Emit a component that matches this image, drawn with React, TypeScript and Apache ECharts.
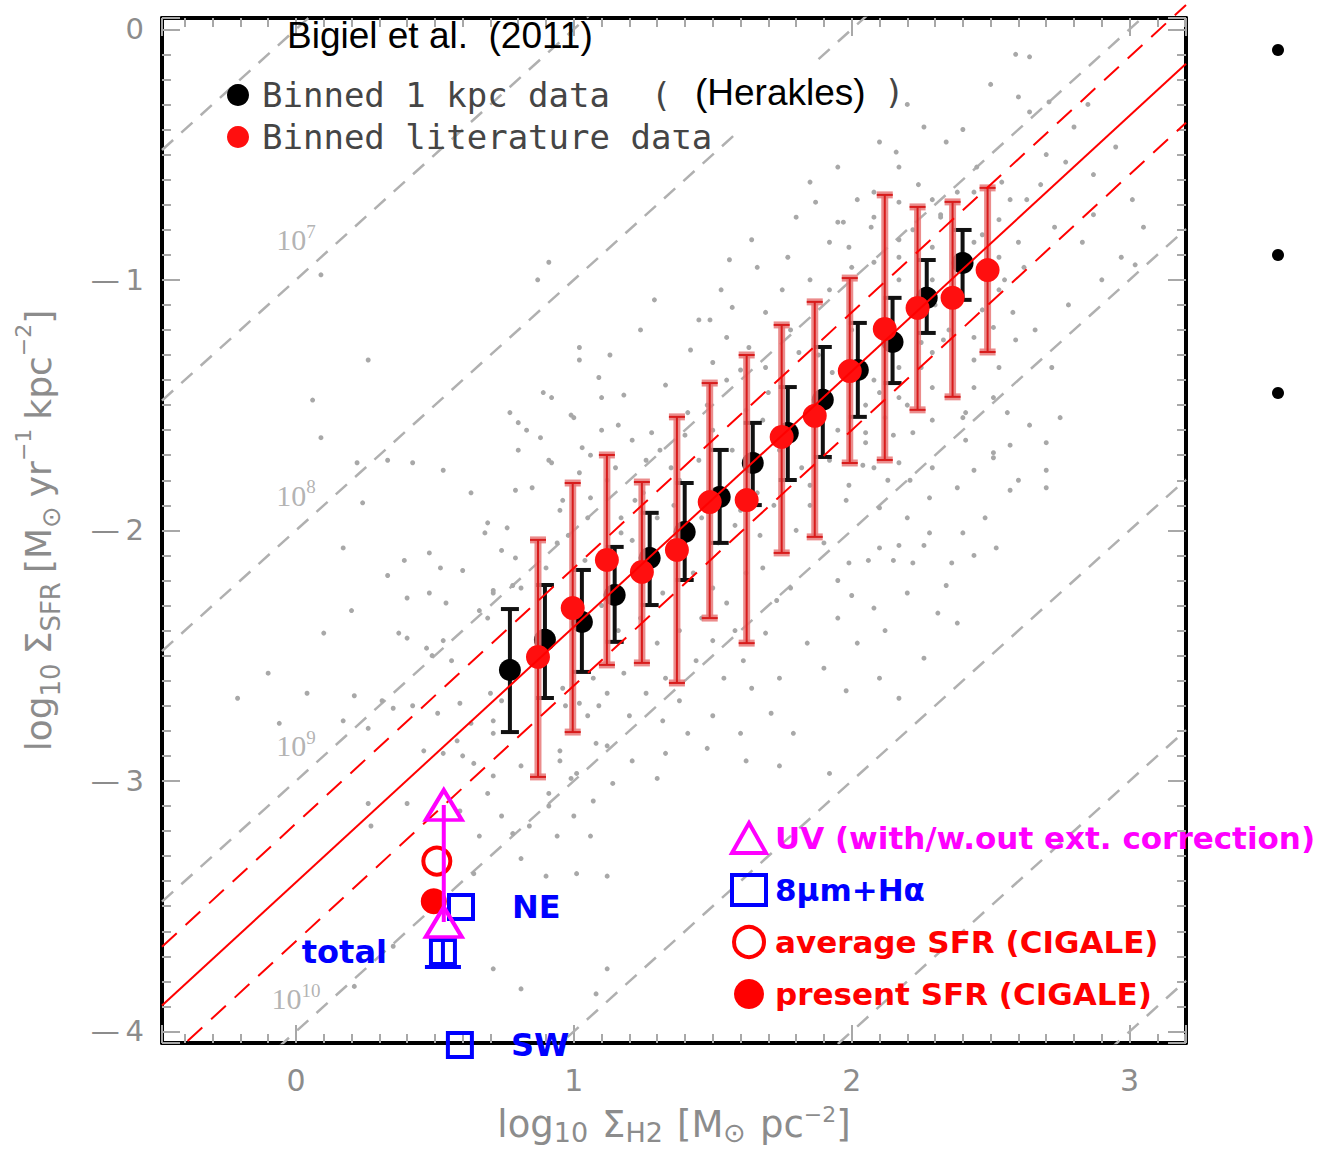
import React, { useEffect, useRef } from 'react';
import * as echarts from 'echarts';

// ---------- axes ----------
const X_MIN = -0.482;
const X_MAX = 3.203;
const Y_MIN = -4.046;
const Y_MAX = 0.045;
const xTickLabels = [0, 1, 2, 3];
const yTickLabels = [-4, -3, -2, -1, 0];

// ---------- Binned 1 kpc data (Herakles) ----------
const kpcX = [0.770, 0.896, 1.029, 1.147, 1.273, 1.399, 1.525, 1.644, 1.770, 1.896, 2.022, 2.147, 2.270, 2.399];
const kpcY = [-2.557, -2.437, -2.366, -2.258, -2.110, -2.006, -1.867, -1.731, -1.611, -1.479, -1.360, -1.248, -1.072, -0.933];
const kpcLo = [-2.805, -2.669, -2.565, -2.445, -2.298, -2.198, -2.050, -1.899, -1.799, -1.707, -1.547, -1.412, -1.212, -1.080];
const kpcHi = [-2.314, -2.218, -2.158, -2.066, -1.930, -1.811, -1.679, -1.571, -1.428, -1.268, -1.172, -1.072, -0.921, -0.801];

// ---------- Binned literature data ----------
const litX = [0.871, 0.996, 1.119, 1.245, 1.371, 1.489, 1.622, 1.748, 1.867, 1.993, 2.119, 2.237, 2.363, 2.489];
const litY = [-2.505, -2.310, -2.118, -2.166, -2.078, -1.887, -1.879, -1.627, -1.543, -1.364, -1.196, -1.112, -1.072, -0.961];
const litLo = [-2.984, -2.805, -2.537, -2.529, -2.609, -2.350, -2.450, -2.090, -2.026, -1.731, -1.719, -1.519, -1.467, -1.288];
const litHi = [-2.038, -1.811, -1.699, -1.807, -1.547, -1.412, -1.300, -1.180, -1.088, -0.993, -0.661, -0.709, -0.689, -0.633];

// ---------- background pixel cloud ----------
const cloudX = [
  0.09, 0.26, 0.06, 0.09, 0.22, 0.33, 0.42, 0.53, 0.63, 0.24, 0.17, 0.39, 0.48, 0.52, 0.68, 0.76, 0.91, 0.87, 1.02, 1.02,
  1.13, 1.09, 0.89, 0.92, 1.10, 0.77, 0.80, 0.83, 0.88, 1.00, 1.10, 0.80, 0.92, 1.03, 0.79, 0.85,
  0.10, 0.20, 0.33, 0.40, 0.48, 0.54, 0.60, 0.37, 0.40, 0.47, 0.53, 0.49, 0.56, 0.66, 0.71, 0.78, -0.10, -0.21, 0.04, -0.06,
  0.21, 0.31, 0.17, 0.26, 0.35, 0.42, 0.51, 0.59, 0.63, 0.70, 0.71, 0.46, 0.53, 0.60, 0.58, 0.64, 0.71, 0.26, 0.40, 0.27,
  0.59, 0.69, 0.66, 0.74, 0.78, 0.84, 0.91, 1.00, 0.94, 1.06, 0.81, 0.90, 1.01, 0.64, 0.71, 0.81, 1.08, 1.12, 0.21, 0.35,
  1.12, 1.12, 0.97, 1.05, 1.09, 0.95, 1.01, 0.91, 1.07,
  0.99, 1.21, 1.28, 1.31, 1.41, 1.45, 1.50, 1.57, 1.68, 1.74, 0.91, 1.02, 0.96, 1.06, 0.95, 1.05, 0.69, 0.74, 0.79, 0.90,
  0.71, 0.81, 0.69, 0.94, 1.17, 1.17, 1.21, 1.32, 1.43, 1.50, 1.55, 1.62, 1.68, 1.73, 1.78, 1.69, 1.61, 1.50, 1.44, 1.54,
  1.64, 1.74, 1.33, 1.38, 1.26, 1.18, 1.12, 1.07, 1.02, 0.96, 1.20, 1.32, 1.41, 1.50, 1.60, 1.71, 1.79, 0.95, 1.08, 1.21,
  1.33, 1.48, 1.62, 1.74, 0.99, 1.14, 1.30, 0.81, 0.71, 0.74, 1.24, 1.33, 1.42, 1.18, 1.29, 1.45,
  1.12, 1.25, 1.36, 1.58, 1.66, 1.85, 1.90, 1.82, 1.95, 2.05, 1.88, 2.00, 2.12, 2.25,
  1.87, 1.95, 2.02, 2.08, 2.17, 2.22, 2.29, 2.32, 2.44, 2.53, 2.57, 1.99, 2.08, 2.17, 2.29, 2.44, 2.53, 1.64, 1.77, 1.56,
  1.66, 1.75, 1.85, 1.92, 2.17, 2.29, 2.53, 2.58, 2.51, 2.59, 2.44, 2.33, 1.53, 1.57, 1.69, 1.49, 1.55, 1.63, 1.50, 1.60,
  1.69, 1.81, 1.93, 2.08, 2.17, 2.29, 2.44, 2.53, 2.17, 2.29, 2.44, 2.51, 2.56, 2.29, 2.41, 2.22, 2.41, 2.51, 2.17, 2.29,
  2.44, 2.05, 2.08,
  2.57, 2.70, 2.70, 2.70, 2.57, 2.51, 2.38, 2.28, 2.21, 2.13, 2.04, 1.99, 2.10, 2.20, 2.28, 2.40, 2.52, 2.26, 2.17, 2.10,
  2.06, 1.99, 2.15, 2.22, 2.36, 1.95, 2.00, 2.08, 2.31, 2.38, 2.26, 2.10, 1.98, 2.17, 1.92,
  2.59, 2.64, 2.60, 2.64, 2.71, 2.80, 2.95, 3.01, 3.05, 2.87, 2.77, 2.68, 2.63, 2.54, 2.45, 2.38, 2.32, 2.24, 2.17, 2.26,
  2.34, 2.17, 2.07, 1.97, 1.92, 1.85, 2.08, 2.16, 2.47, 2.60, 2.73, 2.87, 2.97, 3.02,
  1.15, 1.22, 1.30, 1.38, 1.46, 1.52, 1.60, 1.67, 1.72, 1.80, 1.85, 1.92, 1.98, 2.05, 2.10, 2.15, 2.20, 2.25, 2.30, 2.35,
  2.40, 2.47, 2.55, 2.62, 2.66, 2.72, 2.78, 2.83, 2.90, 1.70, 1.78, 1.62, 1.55, 1.48, 1.40, 1.35, 1.26, 1.16, 1.06, 0.98,
  1.04, 1.10, 1.16, 1.24, 1.30, 1.38, 1.46, 1.58, 1.84, 1.90, 1.95, 2.02, 2.12, 2.20, 2.34, 2.44, 2.48, 2.60, 2.64, 2.75,
  2.10, 2.20, 2.40, 2.50, 2.70, 2.85, 1.95, 1.80, 2.00, 2.25,
];
const cloudY = [
  -0.98, -1.32, -1.48, -1.63, -1.73, -1.72, -1.73, -1.76, -1.85, -1.89, -2.07, -2.12, -2.09, -2.15, -2.01, -1.99, -0.93, -1.00, -1.27, -1.32,
  -1.30, -1.39, -1.45, -1.47, -1.47, -1.53, -1.57, -1.60, -1.63, -1.55, -1.60, -1.68, -1.73, -1.67, -1.84, -1.83,
  -2.41, -2.32, -2.18, -2.27, -2.25, -2.29, -2.16, -2.41, -2.43, -2.47, -2.44, -2.50, -2.52, -2.32, -2.25, -2.22, -2.57, -2.67, -2.65, -2.77,
  -2.66, -2.68, -2.76, -2.79, -2.71, -2.70, -2.73, -2.69, -2.77, -2.65, -2.76, -2.88, -2.89, -2.90, -2.84, -2.93, -2.98, -3.09, -3.09, -3.18,
  -3.12, -3.05, -3.22, -3.14, -3.21, -3.18, -3.10, -3.14, -3.22, -3.22, -3.31, -3.38, -3.37, -3.37, -3.75, -3.83, -3.85, -3.75, -3.82, -3.66,
  -3.38, -2.86, -2.70, -2.74, -2.70, -2.92, -2.97, -3.05, -3.08,
  -1.54, -1.64, -1.61, -1.68, -1.53, -1.72, -1.60, -1.68, -1.56, -1.68, -1.72, -1.77, -1.88, -1.87, -1.92, -1.95, -1.97, -2.08, -2.11, -2.15,
  -2.24, -2.23, -2.35, -2.05, -1.95, -2.01, -2.04, -2.25, -2.17, -2.23, -2.29, -2.17, -2.15, -2.28, -2.23, -2.41, -2.52, -2.44, -2.52, -2.59,
  -2.63, -2.59, -2.59, -2.68, -2.65, -2.57, -2.65, -2.59, -2.69, -2.63, -2.74, -2.76, -2.81, -2.74, -2.81, -2.73, -2.81, -2.88, -2.85, -2.92,
  -2.89, -2.87, -2.92, -2.94, -2.99, -3.01, -2.99, -2.94, -2.81, -2.68, -1.20, -1.42, -1.28, -1.46, -1.08, -1.16,
  -1.80, -1.85, -1.90, -1.98, -1.85, -1.90, -2.05, -1.75, -1.60, -1.50, -1.30, -1.20, -1.55, -1.35,
  -0.69, -0.77, -0.68, -0.75, -0.69, -0.80, -0.68, -0.75, -0.65, -0.76, -0.68, -0.87, -0.93, -0.91, -0.87, -0.85, -0.91, -0.84, -0.91, -0.92,
  -0.95, -1.04, -1.00, -1.04, -1.00, -1.00, -1.04, -1.13, -1.19, -1.24, -1.23, -1.24, -1.04, -1.11, -1.13, -1.16, -1.23, -1.27, -1.33, -1.36,
  -1.35, -1.29, -1.37, -1.40, -1.35, -1.29, -1.32, -1.35, -1.47, -1.43, -1.43, -1.47, -1.53, -1.56, -1.53, -1.61, -1.64, -1.69, -1.73, -1.75,
  -1.76, -1.61, -1.75,
  -1.66, -1.65, -1.76, -1.83, -1.84, -1.71, -1.83, -1.87, -1.80, -1.80, -1.74, -1.82, -1.91, -1.95, -2.01, -2.01, -2.07, -2.06, -2.06, -2.07,
  -2.12, -2.13, -2.12, -2.13, -2.13, -2.20, -2.26, -2.31, -2.33, -2.37, -2.51, -2.59, -2.64, -2.67, -2.97,
  -0.10, -0.11, -0.27, -0.33, -0.29, -0.39, -0.47, -0.68, -0.79, -0.58, -0.53, -0.62, -0.68, -0.61, -0.55, -0.65, -0.74, -0.62, -0.55, -0.39,
  -0.45, -0.84, -0.79, -0.77, -0.85, -0.61, -0.65, -0.49, -0.82, -0.85, -0.79, -0.74, -0.91, -0.94,
  -1.75, -1.88, -1.95, -1.80, -1.95, -2.05, -1.92, -2.02, -1.90, -2.00, -1.82, -1.72, -1.88, -1.65, -1.45, -1.62, -1.50, -1.25, -1.10, -1.20,
  -1.55, -1.12, -1.00, -0.95, -1.20, -1.35, -1.10, -0.85, -1.00, -1.45, -1.20, -1.52, -1.40, -1.50, -1.62, -1.75, -1.72, -1.58, -1.70, -2.02,
  -2.12, -2.30, -2.40, -2.35, -2.45, -2.40, -2.35, -2.40, -2.45, -2.55, -2.35, -2.45, -2.40, -2.25, -2.22, -2.10, -1.95, -1.80, -1.58, -1.55,
  -0.45, -0.30, -0.40, -0.22, -0.50, -0.30, -0.55, -0.75, -0.95, -1.05,
];

// ---------- depletion-time lines: log SFR = log H2 - k ----------
const depletionOffsets = [0, 1, 2, 3, 4, 5, 6, 7];
const depletionLabelExp = ['7', '8', '9', '10'];
const depletionLabelX = [0.0, 0.0, 0.0, 0.0];
const depletionLabelY = [-0.84, -1.86, -2.86, -3.87];

// ---------- red fit lines: y = slope * x + b ----------
const fitSlope = 1.02;
const fitSolidB = -3.405;
const fitUpperB = -3.17;
const fitLowerB = -3.64;
const fitXStart = [-0.482, -0.482, -0.39];
const fitXEnd = 3.203;

// ---------- this galaxy ----------
const uvX = [0.532, 0.532];
const uvY = [-3.096, -3.563];
const avgSfrX = [0.507];
const avgSfrY = [-3.32];
const presentSfrX = [0.496];
const presentSfrY = [-3.48];
const pahNames = ['NE', 'total', 'SW'];
const pahX = [0.594, 0.529, 0.590];
const pahY = [-3.503, -3.683, -4.054];
const totalErrLo = -3.743;
const totalErrHi = -3.635;

const hershey = '"DejaVu Sans", sans-serif';
const hersheyWide = '"DejaVu Sans Mono", monospace';
const comicLike = '"DejaVu Sans", sans-serif';
const axisGray = '#8c8c8c';

const isInt = (v: number) => Math.abs(v - Math.round(v)) < 1e-6;

function errorBars(stroke: string, width: number, capHalf: number, under?: { stroke: string; width: number }, topCapHalf?: number) {
  return (params: any, api: any) => {
    const x = api.value(0);
    const lo = api.value(1);
    const hi = api.value(2);
    const top = api.coord([x, hi]);
    const bot = api.coord([x, lo]);
    const tc = topCapHalf ?? capHalf;
    const children: any[] = [];
    const add = (s: string, w: number) => {
      children.push({ type: 'line', shape: { x1: top[0], y1: top[1], x2: bot[0], y2: bot[1] }, style: { stroke: s, lineWidth: w } });
      children.push({ type: 'line', shape: { x1: top[0] - tc, y1: top[1], x2: top[0] + tc, y2: top[1] }, style: { stroke: s, lineWidth: w } });
      children.push({ type: 'line', shape: { x1: bot[0] - capHalf, y1: bot[1], x2: bot[0] + capHalf, y2: bot[1] }, style: { stroke: s, lineWidth: w } });
    };
    if (under) add(under.stroke, under.width);
    add(stroke, width);
    return { type: 'group', children };
  };
}

const nameRich = (size: number, gap: number, extra: number) => ({
  t: { fontSize: size, fontFamily: hershey, color: axisGray, lineHeight: size + extra },
  g: { fontSize: size, fontFamily: hershey, color: axisGray, lineHeight: size + extra, padding: [0, 0, 0, gap] },
  s: { fontSize: Math.round(size * 0.72), fontFamily: hershey, color: axisGray, verticalAlign: 'bottom', lineHeight: Math.round(size * 0.8) },
  p: { fontSize: Math.round(size * 0.6), fontFamily: hershey, color: axisGray, verticalAlign: 'top', lineHeight: Math.round(size * 0.7) },
});

function buildOption(): any {
  const frame = {
    axisLine: { show: true, onZero: false, lineStyle: { color: '#000', width: 4 } },
    axisTick: { show: true, inside: true, length: 18, lineStyle: { color: '#a8a8a8', width: 2 } },
    minorTick: { show: true, splitNumber: 10, length: 9, lineStyle: { color: '#a8a8a8', width: 2 } },
    splitLine: { show: false },
    minorSplitLine: { show: false },
  };

  const depletionSeries = depletionOffsets.map((k) => ({
    type: 'line',
    name: `tdep-${k}`,
    data: [[X_MIN, X_MIN - k], [X_MAX, X_MAX - k]],
    symbol: 'none',
    silent: true,
    clip: true,
    z: 1,
    lineStyle: { color: '#b0b0b0', width: 2.5, type: [15, 11] },
  }));

  const fitLine = (name: string, b: number, x0: number, dashed: boolean) => ({
    type: 'line',
    name,
    data: [[x0, fitSlope * x0 + b], [fitXEnd, fitSlope * fitXEnd + b]],
    symbol: 'none',
    silent: true,
    clip: false,
    z: 7,
    lineStyle: { color: '#ff0000', width: 2, type: dashed ? [20, 12] : 'solid' },
  });

  return {
    animation: false,
    backgroundColor: '#ffffff',
    grid: { left: 162, top: 18, width: 1024, height: 1025, containLabel: false, outerBoundsMode: 'none' },
    xAxis: [
      {
        type: 'value', position: 'bottom', min: X_MIN, max: X_MAX, ...frame,
        axisLabel: {
          show: true, margin: 22, fontSize: 30, color: axisGray, fontFamily: hershey, showMinLabel: false, showMaxLabel: false,
          formatter: (v: number) => (isInt(v) && xTickLabels.includes(Math.round(v)) ? String(Math.round(v)) : ''),
        },
        name: '{t|log}{s|10}{g|Σ}{s|H2}{g|[M}{s|⊙}{g|pc}{p|−2}{t|]}',
        nameLocation: 'middle', nameGap: 60,
        nameTextStyle: { rich: nameRich(37, 14, 6) },
      },
      { type: 'value', position: 'top', min: X_MIN, max: X_MAX, ...frame, axisLabel: { show: false } },
    ],
    yAxis: [
      {
        type: 'value', position: 'left', min: Y_MIN, max: Y_MAX, ...frame,
        axisLabel: {
          show: true, margin: 18, fontSize: 29, color: axisGray, fontFamily: hershey, showMinLabel: false, showMaxLabel: false,
          formatter: (v: number) => {
            if (!isInt(v) || !yTickLabels.includes(Math.round(v))) return '';
            const n = Math.round(v);
            return n === 0 ? '0' : '—\u2009' + Math.abs(n);
          },
        },
        name: '{t|log}{s|10}{g|Σ}{s|SFR}{g|[M}{s|⊙}{g|yr}{p|−1}{g|kpc}{p|−2}{t|]}',
        nameLocation: 'middle', nameGap: 98, nameRotate: 90,
        nameTextStyle: { rich: nameRich(36, 9, 16) },
      },
      { type: 'value', position: 'right', min: Y_MIN, max: Y_MAX, ...frame, axisLabel: { show: false } },
    ],
    legend: [
      {
        orient: 'vertical', left: 222, top: 72, itemGap: 6, itemWidth: 22, itemHeight: 22, icon: 'circle',
        selectedMode: false,
        data: ['Binned 1 kpc data', 'Binned literature data'],
        formatter: (n: string) => (n === 'Binned 1 kpc data' ? 'Binned 1 kpc data  (' : n),
        textStyle: { fontFamily: hersheyWide, fontSize: 34, color: '#454545', lineHeight: 36, padding: [0, 0, 0, 8] },
      },
      {
        orient: 'vertical', left: 725, top: 813, itemGap: 12, itemWidth: 34, itemHeight: 30,
        selectedMode: false,
        itemStyle: { borderWidth: 'inherit' },
        data: [
          { name: 'UV (with/w.out ext. correction)', textStyle: { color: '#ff00ff' } },
          { name: '8μm+Hα', textStyle: { color: '#0000ff' } },
          { name: 'average SFR (CIGALE)', textStyle: { color: '#ff0000' } },
          { name: 'present SFR (CIGALE)', textStyle: { color: '#ff0000' } },
        ],
        textStyle: { fontFamily: comicLike, fontWeight: 'bold', fontSize: 31, lineHeight: 40, padding: [0, 0, 0, 4] },
      },
    ],
    graphic: [
      { type: 'text', left: 287, top: 17, z: 100, style: { text: 'Bigiel et al.  (2011)', fontFamily: '"Liberation Sans", Arial, sans-serif', fontSize: 37, fill: '#000' } },
      { type: 'rect', z: 100, shape: { x: 675, y: 62, width: 212, height: 68 }, style: { fill: '#ffffff' } },
      { type: 'text', left: 695, top: 74, z: 101, style: { text: '(Herakles)', fontFamily: '"Liberation Sans", Arial, sans-serif', fontSize: 37, fill: '#000' } },
      { type: 'text', left: 884, top: 75, z: 101, style: { text: ')', fontFamily: hersheyWide, fontSize: 34, fill: '#454545' } },
      { type: 'circle', z: 100, shape: { cx: 1278, cy: 50, r: 6 }, style: { fill: '#000' } },
      { type: 'circle', z: 100, shape: { cx: 1278, cy: 255, r: 6 }, style: { fill: '#000' } },
      { type: 'circle', z: 100, shape: { cx: 1278, cy: 393, r: 6 }, style: { fill: '#000' } },
    ],
    series: [
      {
        type: 'scatter', name: 'pixels', silent: true, z: 1,
        data: cloudX.map((x, i) => [x, cloudY[i]]),
        symbol: 'circle', symbolSize: 5,
        itemStyle: { color: '#a8a8a8', opacity: 1 },
      },
      ...depletionSeries,
      {
        type: 'scatter', name: 'tdep-labels', silent: true, z: 2,
        data: depletionLabelX.map((x, i) => ({ value: [x, depletionLabelY[i]], name: depletionLabelExp[i] })),
        symbolSize: 0,
        label: {
          show: true, position: 'inside',
          formatter: (p: any) => `{b|10}{e|${p.name}}`,
          rich: {
            b: { fontFamily: '"Liberation Serif", serif', fontSize: 30, color: '#a0a0a0', lineHeight: 36 },
            e: { fontFamily: '"Liberation Serif", serif', fontSize: 19, color: '#a0a0a0', verticalAlign: 'top', lineHeight: 22 },
          },
        },
      },
      {
        type: 'custom', name: 'kpc-err', silent: true, z: 3,
        renderItem: errorBars('#111111', 4, 9),
        data: kpcX.map((x, i) => [x, kpcLo[i], kpcHi[i]]),
        encode: { x: 0, y: [1, 2] },
      },
      {
        type: 'scatter', name: 'Binned 1 kpc data', z: 4,
        data: kpcX.map((x, i) => [x, kpcY[i]]),
        symbol: 'circle', symbolSize: 22,
        itemStyle: { color: '#000000', opacity: 1 },
      },
      {
        type: 'custom', name: 'lit-err', silent: true, z: 5,
        renderItem: errorBars('#d81c1c', 2, 8, { stroke: 'rgba(232,120,120,0.85)', width: 7 }),
        data: litX.map((x, i) => [x, litLo[i], litHi[i]]),
        encode: { x: 0, y: [1, 2] },
      },
      {
        type: 'scatter', name: 'Binned literature data', z: 6,
        data: litX.map((x, i) => [x, litY[i]]),
        symbol: 'circle', symbolSize: 24,
        itemStyle: { color: '#ff0f0f', opacity: 1 },
      },
      fitLine('fit', fitSolidB, fitXStart[0], false),
      fitLine('fit-upper', fitUpperB, fitXStart[1], true),
      fitLine('fit-lower', fitLowerB, fitXStart[2], true),
      {
        type: 'scatter', name: 'present SFR (CIGALE)', z: 8,
        data: presentSfrX.map((x, i) => [x, presentSfrY[i]]),
        symbol: 'circle', symbolSize: 26,
        itemStyle: { color: '#ff0000', opacity: 1 },
      },
      {
        type: 'scatter', name: 'average SFR (CIGALE)', z: 8,
        data: avgSfrX.map((x, i) => [x, avgSfrY[i]]),
        symbol: 'circle', symbolSize: 27,
        itemStyle: { color: 'rgba(255,255,255,0)', borderColor: '#ff0000', borderWidth: 4, opacity: 1 },
      },
      {
        type: 'custom', name: 'total-err', silent: true, z: 8, clip: false,
        renderItem: errorBars('#0000ff', 4, 18, undefined, 12),
        data: [[pahX[1], totalErrLo, totalErrHi]],
        encode: { x: 0, y: [1, 2] },
      },
      {
        type: 'scatter', name: '8μm+Hα', z: 8, clip: false,
        data: pahNames.map((n, i) => ({
          value: [pahX[i], pahY[i]], name: n,
          label: { position: n === 'total' ? 'left' : 'right', distance: n === 'total' ? 42 : 37 },
        })),
        symbol: 'rect', symbolSize: 24,
        itemStyle: { color: 'rgba(255,255,255,0)', borderColor: '#0000ff', borderWidth: 4, opacity: 1 },
        label: { show: true, formatter: (p: any) => p.name, fontFamily: comicLike, fontWeight: 'bold', fontSize: 32, color: '#0000ff' },
      },
      {
        type: 'scatter', name: 'UV (with/w.out ext. correction)', z: 9,
        data: uvX.map((x, i) => [x, uvY[i]]),
        symbol: 'triangle', symbolSize: [36, 30],
        itemStyle: { color: 'rgba(255,255,255,0)', borderColor: '#ff00ff', borderWidth: 4, opacity: 1 },
      },
      {
        type: 'line', name: 'UV-range', silent: true, z: 10,
        data: uvX.map((x, i) => [x, uvY[i]]),
        symbol: 'none',
        lineStyle: { color: '#ff00ff', width: 4 },
      },
    ],
  };
}

export default function App() {
  const ref = useRef<HTMLDivElement>(null);
  useEffect(() => {
    if (!ref.current) return;
    const chart = echarts.init(ref.current, null, { renderer: 'svg' });
    chart.setOption(buildOption());
    return () => chart.dispose();
  }, []);
  return (
    <div
      ref={ref}
      style={{ position: 'absolute', left: 0, top: 0, width: 1327, height: 1159, background: '#fff' }}
    />
  );
}
